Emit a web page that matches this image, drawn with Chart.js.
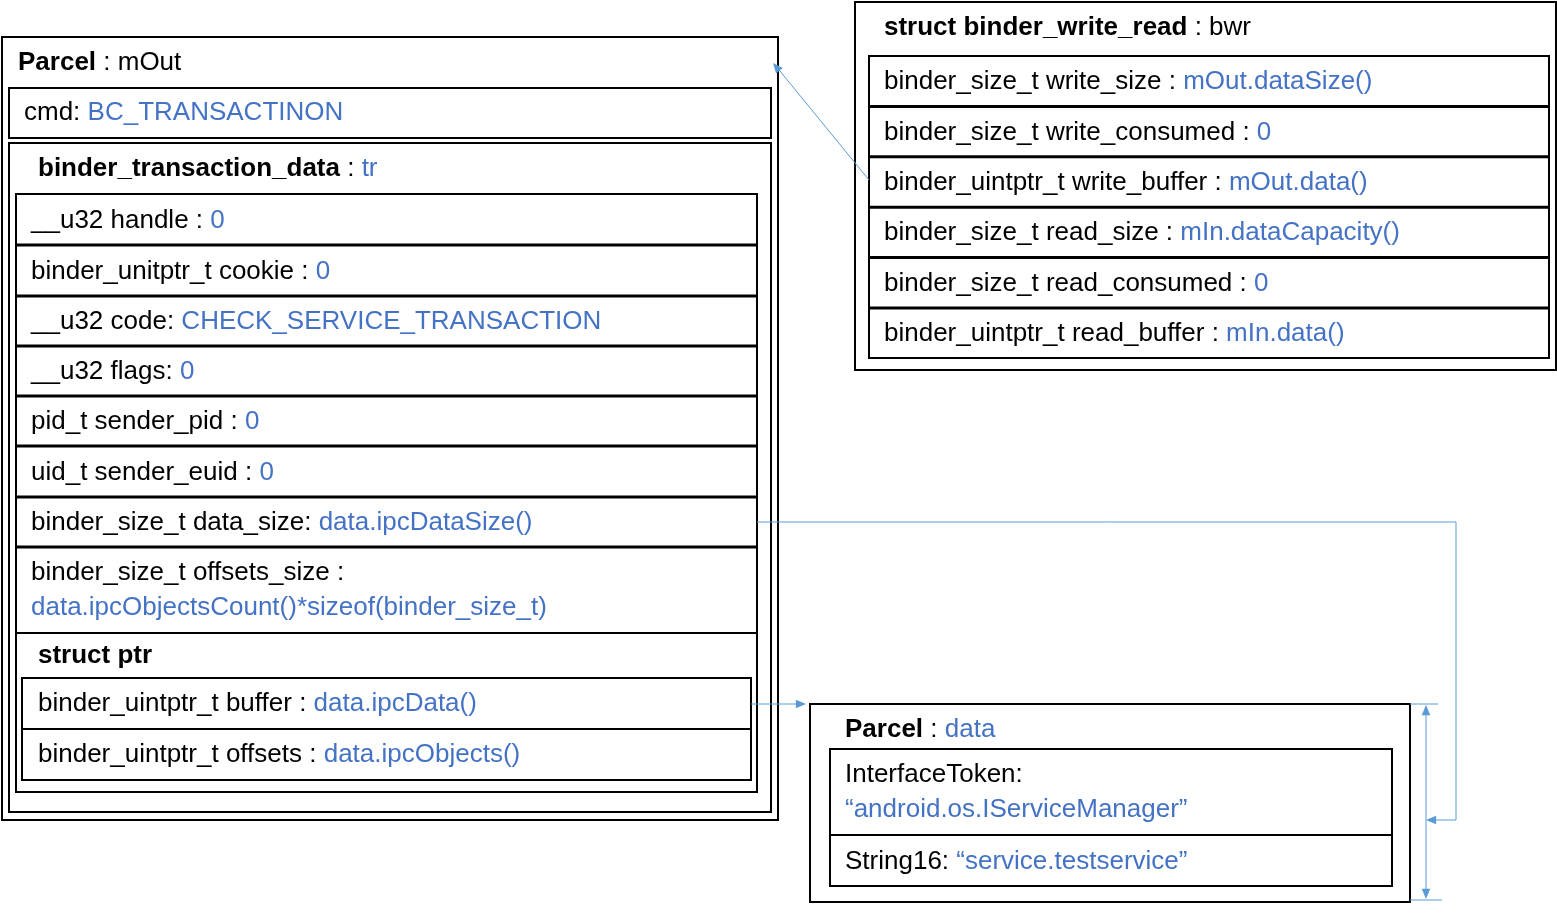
<!DOCTYPE html>
<html><head><meta charset="utf-8">
<script src="https://cdn.jsdelivr.net/npm/chart.js@4/dist/chart.umd.min.js"></script>
<style>html,body{margin:0;padding:0;background:#fff}#c{display:block}</style>
</head><body>
<div style="width:1557px;height:916px"><canvas id="c"></canvas></div>
<script>
const mOutTitle = ["Parcel", " : mOut"];
const cmdRow = ["cmd: ", "BC_TRANSACTINON"];
const trTitle = ["binder_transaction_data", " : ", "tr"];
const trRows = [
  ["__u32 handle : ", "0"],
  ["binder_unitptr_t cookie : ", "0"],
  ["__u32 code: ", "CHECK_SERVICE_TRANSACTION"],
  ["__u32 flags: ", "0"],
  ["pid_t sender_pid : ", "0"],
  ["uid_t sender_euid : ", "0"],
  ["binder_size_t data_size: ", "data.ipcDataSize()"],
  ["binder_size_t offsets_size :", "data.ipcObjectsCount()*sizeof(binder_size_t)"]
];
const ptrTitle = "struct ptr";
const ptrRows = [
  ["binder_uintptr_t buffer : ", "data.ipcData()"],
  ["binder_uintptr_t offsets : ", "data.ipcObjects()"]
];
const bwrTitle = ["struct binder_write_read", " : bwr"];
const bwrRows = [
  ["binder_size_t write_size : ", "mOut.dataSize()"],
  ["binder_size_t write_consumed : ", "0"],
  ["binder_uintptr_t write_buffer : ", "mOut.data()"],
  ["binder_size_t read_size : ", "mIn.dataCapacity()"],
  ["binder_size_t read_consumed : ", "0"],
  ["binder_uintptr_t read_buffer : ", "mIn.data()"]
];
const dataTitle = ["Parcel", " : ", "data"];
const dataRows = [
  ["InterfaceToken:", "\u201candroid.os.IServiceManager\u201d"],
  ["String16: ", "\u201cservice.testservice\u201d"]
];

const BLUE = "#4472c4", LINE = "#5b9bd5", F = "Liberation Sans, Arial, sans-serif";

const diagram = {
  id: 'diagram',
  afterDraw(chart) {
    const ctx = chart.ctx, sx = chart.scales.x, sy = chart.scales.y;
    const X = v => sx.getPixelForValue(v), Y = v => sy.getPixelForValue(v);
    const rect = (x1, y1, x2, y2, w) => { ctx.lineWidth = w || 2; ctx.strokeStyle = '#000'; ctx.strokeRect(X(x1), Y(y1), X(x2) - X(x1), Y(y2) - Y(y1)); };
    const hl = (x1, x2, y, w) => { ctx.lineWidth = w || 2; ctx.strokeStyle = '#000'; ctx.beginPath(); ctx.moveTo(X(x1), Y(y)); ctx.lineTo(X(x2), Y(y)); ctx.stroke(); };
    const txt = (parts, x, y, bold0) => {
      let cx = X(x); ctx.textBaseline = 'middle';
      parts.forEach((p, i) => {
        const bold = bold0 && i === 0;
        ctx.font = (bold ? 'bold ' : '') + '26px ' + F;
        ctx.fillStyle = (i % 2 === 1 && !bold0) || (bold0 && i === 2) ? BLUE : '#000';
        ctx.fillText(p, cx, Y(y)); cx += ctx.measureText(p).width;
      });
    };
    const arrowHead = (x, y, ang) => {
      ctx.fillStyle = LINE; ctx.beginPath();
      ctx.moveTo(X(x), Y(y));
      ctx.lineTo(X(x) - 11 * Math.cos(ang - 0.4), Y(y) - 11 * Math.sin(ang - 0.4));
      ctx.lineTo(X(x) - 11 * Math.cos(ang + 0.4), Y(y) - 11 * Math.sin(ang + 0.4));
      ctx.closePath(); ctx.fill();
    };
    const poly = (pts) => { ctx.strokeStyle = LINE; ctx.lineWidth = 1; ctx.beginPath(); pts.forEach((p, i) => i ? ctx.lineTo(X(p[0]), Y(p[1])) : ctx.moveTo(X(p[0]), Y(p[1]))); ctx.stroke(); };

    // mOut
    rect(2, 37, 778, 820);
    txt(mOutTitle, 18, 63, true);
    rect(9, 88, 771, 138);
    txt(cmdRow, 24, 113);
    rect(9, 143, 771, 812);
    rect(16, 194, 757, 792);
    txt(trTitle, 38, 169, true);
    const trY = [194, 245, 296, 346, 396, 446, 497, 547, 633];
    trRows.forEach((r, i) => {
      if (i > 0) hl(16, 757, trY[i], 3);
      if (i === trRows.length - 1) { txt([r[0]], 31, 573); txt(['', r[1]], 31, 608); }
      else txt(r, 31, (trY[i] + trY[i + 1]) / 2 + 1);
    });
    hl(16, 757, 633, 2);
    ctx.font = 'bold 26px ' + F; ctx.fillStyle = '#000'; ctx.fillText(ptrTitle, X(38), Y(656));
    rect(22, 678, 751, 780);
    ptrRows.forEach((r, i) => { if (i) hl(22, 751, 729); txt(r, 38, 704 + i * 51); });

    // bwr
    rect(855, 2, 1556, 370);
    txt(bwrTitle, 884, 28, true);
    rect(869, 56, 1549, 358);
    bwrRows.forEach((r, i) => { if (i) hl(869, 1549, 56 + i * 50.4, 3); txt(r, 884, 82 + i * 50.4); });

    // data
    rect(810, 704, 1410, 902);
    txt(dataTitle, 845, 730, true);
    rect(830, 749, 1392, 886);
    hl(830, 1392, 835);
    txt([dataRows[0][0]], 845, 775); txt(['', dataRows[0][1]], 845, 810);
    txt(dataRows[1], 845, 862);

    // connectors
    poly([[869, 180], [775, 65]]); arrowHead(773, 63, Math.atan2(63 - 180, 773 - 869));
    poly([[757, 522], [1456, 522], [1456, 820], [1430, 820]]); arrowHead(1426, 820, Math.PI);
    poly([[751, 704], [800, 704]]); arrowHead(806, 704, 0);
    poly([[1410, 704], [1438, 704]]); poly([[1410, 900], [1442, 900]]);
    poly([[1426, 712], [1426, 892]]); arrowHead(1426, 705, -Math.PI / 2); arrowHead(1426, 899, Math.PI / 2);
  }
};

new Chart(document.getElementById('c'), {
  type: 'scatter',
  data: { datasets: [{ data: [] }] },
  options: {
    responsive: true, maintainAspectRatio: false, animation: false,
    layout: { padding: 0 },
    plugins: { legend: { display: false }, tooltip: { enabled: false } },
    scales: {
      x: { type: 'linear', min: 0, max: 1557, display: false },
      y: { type: 'linear', min: 0, max: 916, reverse: true, display: false }
    }
  },
  plugins: [diagram]
});
</script>
</body></html>
